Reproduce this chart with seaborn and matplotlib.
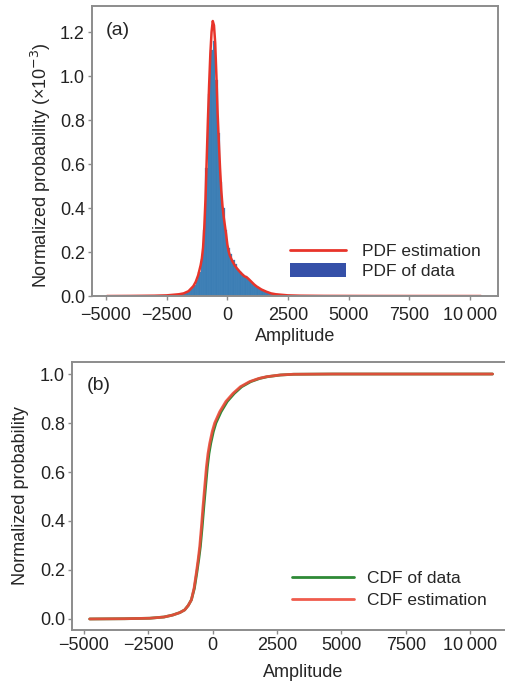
import numpy as np
import pandas as pd
import seaborn as sns
import matplotlib
matplotlib.use("Agg")
import matplotlib.pyplot as plt
from matplotlib.lines import Line2D
from matplotlib.patches import Patch

# ---------------- data ----------------
# PDF estimation curve (values in units of 1e-3)
pdf_x = [-4960, -4000, -3000, -2500, -2000, -1800, -1600, -1400, -1300, -1200,
         -1100, -1050, -1000, -950, -900, -850, -800, -750, -700, -650,
         -600, -550, -500, -450, -400, -350, -300, -250, -200, -150,
         -100, -50, 0, 50, 100, 200, 300, 400, 500, 600,
         700, 800, 900, 1000, 1100, 1200, 1400, 1600, 1800, 2000,
         2500, 3000, 4000, 6000, 8000, 10450]
pdf_y = [0.000, 0.0005, 0.0015, 0.003, 0.008, 0.012, 0.022, 0.045, 0.065, 0.095,
         0.14, 0.17, 0.22, 0.31, 0.44, 0.62, 0.80, 0.96, 1.10, 1.20,
         1.25, 1.23, 1.15, 1.00, 0.83, 0.70, 0.58, 0.48, 0.41, 0.36,
         0.32, 0.28, 0.235, 0.205, 0.185, 0.16, 0.14, 0.125, 0.112, 0.10,
         0.09, 0.085, 0.075, 0.064, 0.053, 0.044, 0.030, 0.020, 0.012, 0.008,
         0.003, 0.0015, 0.0006, 0.0002, 0.0001, 0.0]

# histogram of data (bin centres and heights, units of 1e-3)
hist_centers = [-1950, -1850, -1750, -1650, -1550, -1450, -1350, -1250, -1150, -1050,
                -950, -850, -750, -650, -550, -450, -350, -250, -150, -50,
                50, 150, 250, 350, 450, 550, 650, 750, 850, 950,
                1050, 1150, 1250, 1350, 1450, 1550, 1650, 1750, 1850, 1950,
                2050, 2150, 2250, 2350, 2450, 2550, 2650, 2750, 2850, 2950]
hist_heights = [0.008, 0.011, 0.015, 0.020, 0.028, 0.038, 0.052, 0.075, 0.11, 0.17,
                0.30, 0.58, 0.92, 1.12, 1.16, 0.98, 0.74, 0.52, 0.40, 0.30,
                0.22, 0.19, 0.165, 0.145, 0.125, 0.11, 0.10, 0.09, 0.08, 0.07,
                0.058, 0.048, 0.040, 0.033, 0.027, 0.022, 0.018, 0.014, 0.011, 0.009,
                0.007, 0.006, 0.005, 0.004, 0.003, 0.0025, 0.002, 0.0015, 0.001, 0.001]

# CDF estimation
cdf_est_x = [-4780, -3428, -2449, -1892, -1555, -1278, -1089, -951, -828, -725,
             -633, -562, -505, -439, -377, -306, -244, -183, -116, -19,
             77, 272, 513, 790, 1076, 1435, 1793, 2090, 2612, 3124,
             4680, 7321, 10873]
cdf_est_y = [0.000, 0.001, 0.003, 0.008, 0.016, 0.026, 0.037, 0.055, 0.078, 0.125,
             0.19, 0.245, 0.295, 0.375, 0.458, 0.545, 0.62, 0.675, 0.717, 0.765,
             0.80, 0.846, 0.888, 0.921, 0.948, 0.969, 0.982, 0.989, 0.996, 0.999,
             1.0, 1.0, 1.0]
# CDF of data
cdf_data_x = [-4780, -3428, -2449, -1892, -1555, -1278, -1089, -951, -828, -712,
              -615, -540, -480, -410, -345, -272, -208, -145, -76, 25,
              125, 325, 565, 840, 1125, 1480, 1830, 2125, 2640, 3150,
              4680, 7321, 10873]
cdf_data_y = [0.000, 0.001, 0.003, 0.008, 0.016, 0.026, 0.037, 0.055, 0.078, 0.125,
              0.19, 0.245, 0.295, 0.375, 0.458, 0.545, 0.62, 0.675, 0.717, 0.765,
              0.80, 0.846, 0.888, 0.921, 0.948, 0.969, 0.982, 0.989, 0.996, 0.999,
              1.0, 1.0, 1.0]

x_ticks = [-5000, -2500, 0, 2500, 5000, 7500, 10000]
x_tick_labels = ["\u22125000", "\u22122500", "0", "2500", "5000", "7500", "10\u2009000"]
ya_ticks = [0.0, 0.2, 0.4, 0.6, 0.8, 1.0, 1.2]
yb_ticks = [0.0, 0.2, 0.4, 0.6, 0.8, 1.0]

# ---------------- style ----------------
sns.set_style("ticks")
plt.rcParams["font.family"] = ["Liberation Sans", "DejaVu Sans"]
plt.rcParams["axes.edgecolor"] = "#8c8c8c"
plt.rcParams["axes.linewidth"] = 1.4
plt.rcParams["xtick.color"] = "#8c8c8c"
plt.rcParams["ytick.color"] = "#8c8c8c"
plt.rcParams["xtick.labelcolor"] = "#222222"
plt.rcParams["ytick.labelcolor"] = "#222222"

RED = "#e8342a"
RED_B = "#ee4a3a"
BLUE = "#3b7db4"
LEG_BLUE = "#3550a8"
GREEN = "#2e8a36"

fig = plt.figure(figsize=(5.05, 6.81), dpi=100)
ax1 = fig.add_axes([0.182, 0.5653, 0.804, 0.4258])
ax2 = fig.add_axes([0.1426, 0.0749, 0.915, 0.3935])

# ---- panel (a) ----
hist_df = pd.DataFrame({"amp": hist_centers, "h": hist_heights})
edges = [c - 50 for c in hist_centers] + [hist_centers[-1] + 50]
sns.histplot(data=hist_df, x="amp", weights="h", bins=edges, stat="count",
             color=BLUE, edgecolor="#4d8cc2", linewidth=0.2, alpha=1.0, ax=ax1)
sns.lineplot(x=pdf_x, y=pdf_y, color=RED, lw=1.8, ax=ax1, sort=False)
ax1.set_xlim(-5580, 11150)
ax1.set_ylim(0, 1.318)
ax1.set_xticks(x_ticks)
ax1.set_xticklabels(x_tick_labels)
ax1.set_yticks(ya_ticks)
ax1.set_yticklabels([f"{v:.1f}" for v in ya_ticks])
ax1.tick_params(axis="x", direction="out", length=3, width=1.0, labelsize=13, pad=5)
ax1.tick_params(axis="y", direction="out", length=3, width=1.0, labelsize=13, pad=2)
ax1.set_xlabel("Amplitude", fontsize=13, labelpad=3)
ax1.set_ylabel("Normalized probability (\u00d710$^{-3}$)", fontsize=13, labelpad=5)
ax1.yaxis.label.set_y(0.45)
ax1.text(0.035, 0.917, "(a)", transform=ax1.transAxes, fontsize=14, va="center", ha="left")
handles = [Line2D([0], [0], color=RED, lw=2), Patch(facecolor=LEG_BLUE, edgecolor="none")]
ax1.legend(handles=handles, labels=["PDF estimation", "PDF of data"], loc="lower right",
           bbox_to_anchor=(0.995, 0.005), frameon=False, fontsize=12.5,
           handlelength=3.2, handleheight=0.9, handletextpad=0.9, labelspacing=0.2)

# ---- panel (b) ----
sns.lineplot(x=cdf_data_x, y=cdf_data_y, color=GREEN, lw=2.0, ax=ax2, sort=False,
             label="CDF of data")
sns.lineplot(x=cdf_est_x, y=cdf_est_y, color=RED_B, lw=2.0, alpha=0.9, ax=ax2, sort=False,
             label="CDF estimation")
ax2.set_xlim(-5466, 12487)
ax2.set_ylim(-0.045, 1.049)
ax2.set_xticks(x_ticks)
ax2.set_xticklabels(x_tick_labels)
ax2.set_yticks(yb_ticks)
ax2.set_yticklabels([f"{v:.1f}" for v in yb_ticks])
ax2.tick_params(axis="both", direction="out", length=3, width=1.0, labelsize=13, pad=2)
ax2.set_xlabel("Amplitude", fontsize=13, labelpad=7)
ax2.set_ylabel("Normalized probability", fontsize=13, labelpad=8)
ax2.text(0.032, 0.914, "(b)", transform=ax2.transAxes, fontsize=14, va="center", ha="left")
ax2.legend(loc="lower left", bbox_to_anchor=(0.442, 0.025), frameon=False, fontsize=12.5,
           handlelength=3.6, handletextpad=0.7, labelspacing=0.35)

fig.savefig("out.png", dpi=100)
